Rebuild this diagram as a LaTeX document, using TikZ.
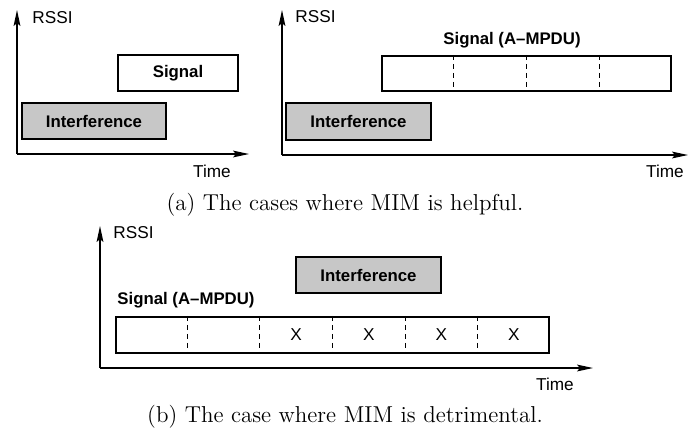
\documentclass[tikz,border=0pt]{standalone}
\usepackage{fontspec}
\newfontfamily\hv{Liberation Sans}
\usetikzlibrary{arrows.meta,calc}
\begin{document}
\begin{tikzpicture}[x=0.5pt,y=-0.5pt,
  axis/.style={line width=0.65pt,-{Stealth[length=8pt,width=3.4pt,inset=1.5pt]}},
  lbl/.style={font=\hv\fontsize{8.6}{10}\selectfont,inner sep=0pt},
  blbl/.style={font=\hv\bfseries\fontsize{8.4}{10}\selectfont,inner sep=0pt},
  sigbox/.style 2 args={draw,line width=1.15pt,fill=white,minimum width=#1*0.5pt,minimum height=#2*0.5pt,inner sep=0pt,font=\hv\bfseries\fontsize{8.4}{10}\selectfont},
  intbox/.style 2 args={sigbox={#1}{#2},fill=black!22},
  divider/.style={line width=0.5pt,dash pattern=on 2.5pt off 2pt},
  captxt/.style={font=\fontsize{11.5}{13}\selectfont,inner sep=0pt}]
\useasboundingbox (0,0) rectangle (699,430);

% ---------- panel 1 ----------
\coordinate (o1) at (17,154);
\coordinate (y1) at (17,10);
\coordinate (x1) at (249,154);
\draw[axis] (o1) -- (y1);
\draw[axis] (o1) -- (x1);
\node[lbl,anchor=west] (rssi1) at (32,18) {RSSI};
\node[lbl] (time1) at (212,171) {Time};
\node[sigbox={120}{36}] (sig1) at (178,73) {Signal};
\node[intbox={144}{36}] (int1) at (94,121) {Interference};

% ---------- panel 2 ----------
\coordinate (o2) at (282,155);
\coordinate (y2) at (282,10);
\coordinate (x2) at (688,155);
\draw[axis] (o2) -- (y2);
\draw[axis] (o2) -- (x2);
\node[lbl,anchor=west] (rssi2) at (295,17) {RSSI};
\node[lbl] (time2) at (665,171) {Time};
\node[sigbox={289}{35}] (sig2) at (526.5,73.5) {};
\node[blbl] (sig2t) at (512,40) {Signal (A–MPDU)};
\foreach \i in {1,2,3}
  \draw[divider] ($(sig2.north west)!\i/4!(sig2.north east)$) -- ($(sig2.south west)!\i/4!(sig2.south east)$);
\node[intbox={145}{37}] (int2) at (358.5,121.5) {Interference};

% ---------- caption a ----------
\node[captxt] (capa) at (345,205) {(a) The cases where MIM is helpful.};

% ---------- panel 3 ----------
\coordinate (o3) at (100,368);
\coordinate (y3) at (100,226);
\coordinate (x3) at (593,368);
\draw[axis] (o3) -- (y3);
\draw[axis] (o3) -- (x3);
\node[lbl,anchor=west] (rssi3) at (113,233) {RSSI};
\node[lbl] (time3) at (555,384) {Time};
\node[intbox={145}{36}] (int3) at (368.5,275) {Interference};
\node[blbl,anchor=west] (sig3t) at (117,300) {Signal (A–MPDU)};
\node[sigbox={433}{36}] (sig3) at (332.5,335) {};
\foreach \i in {1,...,5}
  \draw[divider] ($(sig3.north west)!\i/6!(sig3.north east)$) -- ($(sig3.south west)!\i/6!(sig3.south east)$);
\foreach \i in {2,...,5}
  \node[lbl] (x\i) at ($(sig3.west)!{(2*\i+1)/12}!(sig3.east)$) {X};

% ---------- caption b ----------
\node[captxt] (capb) at (345,417) {(b) The case where MIM is detrimental.};
\end{tikzpicture}
\end{document}
